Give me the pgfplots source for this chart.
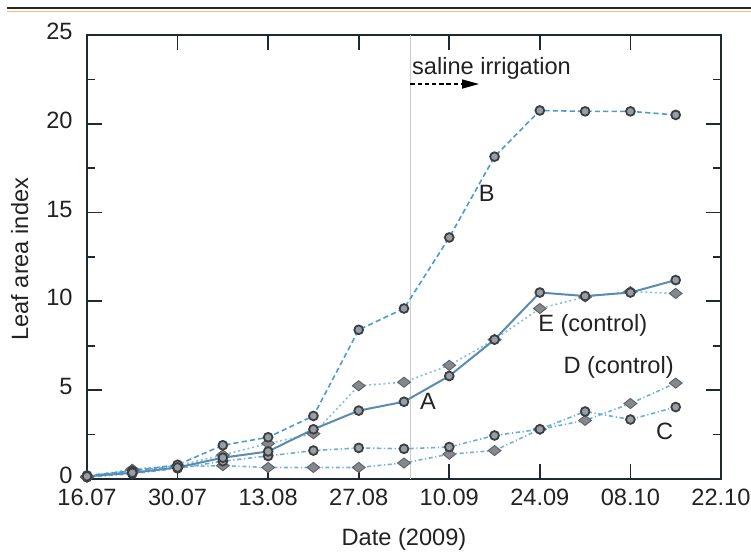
\documentclass[border=0pt]{standalone}
\usepackage{fontspec}
\setmainfont{Liberation Sans}
\usepackage{pgfplots}
\pgfplotsset{compat=1.18}
\usepackage{pgfplotstable}
\usetikzlibrary{arrows.meta}

\definecolor{frame}{HTML}{1E2A30}
\definecolor{textc}{HTML}{222222}
\definecolor{lineA}{HTML}{5A8CB0}
\definecolor{lineB}{HTML}{4D9AD0}
\definecolor{lineC}{HTML}{6AAEDC}
\definecolor{lineD}{HTML}{70B2DE}
\definecolor{lineE}{HTML}{88C0E2}
\definecolor{markdark}{HTML}{3A3F44}
\definecolor{markfill}{HTML}{9A9EA2}
\definecolor{diafill}{HTML}{85898D}

% Leaf area index, days counted from 16 July 2009
\pgfplotstableread{
day A     B     C    D    E
0   0.15  0.20  0.10 0.10 0.15
7   0.35  0.45  0.30 0.50 0.55
14  0.65  0.80  0.60 0.70 0.75
21  1.20  1.90  1.00 0.75 1.35
28  1.55  2.35  1.30 0.65 2.00
35  2.80  3.55  1.60 0.65 2.55
42  3.85  8.40  1.75 0.65 5.25
49  4.35  9.60  1.70 0.90 5.45
56  5.80  13.60 1.80 1.40 6.40
63  7.85  18.15 2.45 1.60 7.85
70  10.50 20.75 2.80 2.80 9.60
77  10.30 20.70 3.80 3.30 10.25
84  10.50 20.70 3.35 4.25 10.55
91  11.20 20.50 4.05 5.40 10.45
}\lai

\newcommand{\lblfont}{\fontsize{11.8}{14}\selectfont}

\begin{document}
\begin{tikzpicture}
\useasboundingbox (-43.5pt,-38.5pt) rectangle (332pt,239.5pt);
% header rule
\draw[black!85, line width=1.1pt] (-40pt,235.5pt) -- (332pt,235.5pt);
\draw[orange!55, line width=0.5pt] (-40pt,233.9pt) -- (332pt,233.9pt);
\begin{axis}[
  at={(0pt,0pt)}, anchor=south west,
  scale only axis, width=317pt, height=222pt,
  xmin=0, xmax=98, ymin=0, ymax=25,
  xtick={0,14,...,98},
  xticklabels={16.07,30.07,13.08,27.08,10.09,24.09,08.10,22.10},
  ytick={0,5,...,25},
  minor ytick={2.5,7.5,...,22.5},
  tick align=inside,
  major tick length=7.5pt, minor tick length=4pt,
  axis line style={frame, line width=0.9pt},
  every tick/.style={frame, line width=0.9pt},
  tick label style={font=\lblfont, text=textc},
  /pgf/number format/assume math mode=true,
  yticklabel style={inner sep=0pt, xshift=-7pt, yshift=1.8pt},
  xticklabel style={inner sep=0pt, yshift=-4.8pt},
  xlabel={Date (2009)},
  ylabel={Leaf area index},
  label style={font=\lblfont, text=textc},
  xlabel style={at={(axis description cs:0.5,-0.137)}, anchor=center},
  ylabel style={at={(axis description cs:-0.106,0.495)}, anchor=center},
  clip=false,
]
% start of saline irrigation
\draw[gray!40, line width=0.5pt] (axis cs:50,0) -- (axis cs:50,25);
\node[anchor=base west, inner sep=0pt, font=\lblfont, text=textc] at (axis cs:50.2,22.75) {saline irrigation};
\draw[black, line width=0.8pt, dash pattern=on 2.2pt off 1.4pt, -{Triangle[length=8.5pt,width=4.5pt]}] (axis cs:50,22.24) -- (axis cs:60.6,22.24);

\addplot[lineE, line width=0.8pt, dash pattern=on 1pt off 1.4pt,
  mark=diamond*, mark size=2.5pt,
  mark options={solid, xscale=1.7, draw=markdark!80, fill=diafill, line width=0.5pt}]
  table[x=day, y=E] {\lai};
\addplot[lineD, line width=0.8pt, dash pattern=on 2pt off 1.3pt on 0.6pt off 1.3pt,
  mark=diamond*, mark size=2.5pt,
  mark options={solid, xscale=1.7, draw=markdark!80, fill=diafill, line width=0.5pt}]
  table[x=day, y=D] {\lai};
\addplot[lineC, line width=0.8pt, dash pattern=on 2.2pt off 1.3pt on 0.6pt off 1.3pt,
  mark=*, mark size=2.2pt,
  mark options={solid, draw=markdark, fill=markfill, line width=0.9pt}]
  table[x=day, y=C] {\lai};
\addplot[lineB, line width=0.8pt, dash pattern=on 2.6pt off 1.6pt,
  mark=*, mark size=2.2pt,
  mark options={solid, draw=markdark, fill=markfill, line width=0.9pt}]
  table[x=day, y=B] {\lai};
\addplot[lineA, line width=1pt,
  mark=*, mark size=2.2pt,
  mark options={solid, draw=markdark, fill=markfill, line width=0.9pt}]
  table[x=day, y=A] {\lai};

% series names
\node[font=\lblfont, text=textc] at (axis cs:61.8,16.1) {B};
\node[font=\lblfont, text=textc] at (axis cs:52.7,4.35) {A};
\node[anchor=west, inner sep=0pt, font=\lblfont, text=textc] at (axis cs:69.7,8.67) {E (control)};
\node[anchor=west, inner sep=0pt, font=\lblfont, text=textc] at (axis cs:73.6,6.3) {D (control)};
\node[font=\lblfont, text=textc] at (axis cs:89.3,2.66) {C};
\end{axis}
\end{tikzpicture}
\end{document}
